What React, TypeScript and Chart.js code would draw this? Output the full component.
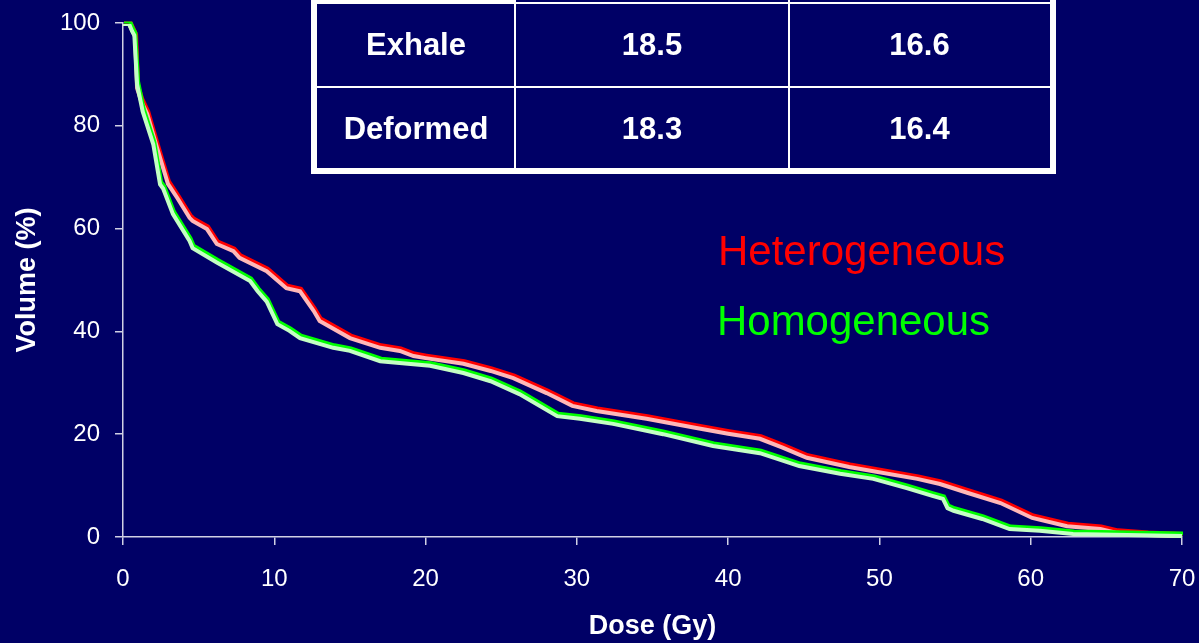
import React, { useEffect, useRef } from "react";
import { Chart, registerables } from "chart.js";

Chart.register(...registerables);

// ---- Data ----
const heteroDose = [0, 0.4, 0.66, 0.8, 0.93, 1.2, 1.6, 2.25, 2.97, 3.6, 4.4, 4.6, 5.55, 6.2, 7.3, 7.7, 9.5, 10.8, 11.7, 12.6, 13, 15, 17, 18.3, 19.2, 20, 22.5, 24.3, 25.8, 28, 29.7, 31.3, 34.6, 37.9, 40, 42.1, 43.6, 45.2, 48, 49.6, 52.5, 54, 55.8, 58, 60.1, 62.4, 64.6, 65.7, 67.7, 70];
const heteroVol = [100, 100, 98.4, 97.5, 87.5, 85, 82.5, 75.9, 68.9, 66.1, 62.3, 61.7, 60.1, 57.2, 55.8, 54.5, 51.9, 48.6, 48, 44.2, 42.2, 38.9, 37, 36.4, 35.4, 35, 33.9, 32.5, 31.1, 28.2, 25.7, 24.7, 23.2, 21.4, 20.3, 19.3, 17.6, 15.6, 13.8, 13.0, 11.5, 10.5, 8.8, 6.8, 3.9, 2.3, 1.75, 1.0, 0.6, 0.3];

const homoDose = [0, 0.4, 0.6, 0.75, 0.93, 1.3, 2.0, 2.45, 2.65, 3.3, 4.4, 4.6, 6.2, 8.4, 8.9, 9.5, 10.2, 11.0, 11.7, 13.9, 15, 17, 20.3, 22.5, 24.3, 26.2, 28.7, 30.2, 32.4, 35.7, 39.0, 42.1, 44.7, 47.4, 49.6, 51.8, 53.5, 54.2, 54.5, 54.9, 56.8, 58.6, 60.6, 62.8, 70];
const homoVol = [100, 100, 98.6, 97.8, 88.3, 83, 76.6, 68.8, 68, 63, 57.8, 56.4, 53.6, 50, 48, 46, 41.6, 40.3, 38.9, 37, 36.4, 34.4, 33.5, 32.1, 30.5, 28.0, 23.7, 23.2, 22.2, 20.2, 17.9, 16.5, 14, 12.5, 11.5, 9.7, 8.2, 7.6, 5.8, 5.3, 3.7, 1.75, 1.4, 0.8, 0.4];

const seriesLabels = ["Heterogeneous", "Homogeneous"];
const tableRows = ["Exhale", "Deformed"];
const tableCol1 = ["18.5", "18.3"];
const tableCol2 = ["16.6", "16.4"];

const xTitle = "Dose (Gy)";
const yTitle = "Volume (%)";

const NAVY = "#000066";
const AXIS = "#d0d0e4";
const FONT = "'Liberation Sans', Arial, Helvetica, sans-serif";

function pts(xs: number[], ys: number[]) {
  return xs.map((x, i) => ({ x, y: ys[i] }));
}

const bgPlugin = {
  id: "bg",
  beforeDraw(chart: any) {
    const ctx = chart.ctx;
    ctx.save();
    ctx.fillStyle = NAVY;
    ctx.fillRect(0, 0, chart.width, chart.height);
    ctx.restore();
  },
};

const shiftPlugin = {
  id: "shift",
  beforeDatasetDraw(chart: any, args: any) {
    const ds = chart.data.datasets[args.index];
    chart.ctx.save();
    if (ds.shift) chart.ctx.translate(ds.shift[0], ds.shift[1]);
  },
  afterDatasetDraw(chart: any) {
    chart.ctx.restore();
  },
};

const overlayPlugin = {
  id: "overlay",
  afterDraw(chart: any) {
    const ctx = chart.ctx;
    ctx.save();
    // Table
    const L = 311, R = 1056, B = 174;
    ctx.fillStyle = "#ffffff";
    ctx.fillRect(L, -10, R - L, B + 10);
    const cols = [317, 515, 789, 1050];
    const rowsY = [-10, 3, 87, 168];
    ctx.fillStyle = NAVY;
    for (let r = 0; r < 3; r++) {
      for (let c = 0; c < 3; c++) {
        if (r === 0 && c === 0) continue;
        const x0 = cols[c] + (c === 0 ? 0 : 1);
        const x1 = cols[c + 1] - (c === 2 ? 0 : 1);
        const y0 = rowsY[r] + (r === 0 ? 0 : 1);
        const y1 = rowsY[r + 1] - (r === 2 ? 0 : 1);
        ctx.fillRect(x0, y0, x1 - x0, y1 - y0);
      }
    }
    ctx.fillStyle = "#ffffff";
    ctx.font = `bold 31px ${FONT}`;
    ctx.textAlign = "center";
    ctx.textBaseline = "middle";
    const rowCenters = [46, 130];
    for (let i = 0; i < tableRows.length; i++) {
      ctx.fillText(tableRows[i], (cols[0] + cols[1]) / 2, rowCenters[i]);
      ctx.fillText(tableCol1[i], (cols[1] + cols[2]) / 2, rowCenters[i]);
      ctx.fillText(tableCol2[i], (cols[2] + cols[3]) / 2, rowCenters[i]);
    }
    // Series labels
    ctx.textAlign = "left";
    ctx.textBaseline = "alphabetic";
    ctx.font = `42px ${FONT}`;
    ctx.fillStyle = "#ff0000";
    ctx.fillText(seriesLabels[0], 718, 265, 290);
    ctx.fillStyle = "#00ff00";
    ctx.fillText(seriesLabels[1], 717, 335, 273);
    ctx.restore();
  },
};

export default function App() {
  const ref = useRef<HTMLCanvasElement | null>(null);
  useEffect(() => {
    if (!ref.current) return;
    const chart = new Chart(ref.current, {
      type: "line",
      data: {
        datasets: [
          { label: seriesLabels[1] + " pale", data: pts(homoDose, homoVol), borderColor: "#c4ffc4", borderWidth: 4, pointRadius: 0, tension: 0, shift: [0, 1] } as any,
          { label: seriesLabels[1], data: pts(homoDose, homoVol), borderColor: "#00ff00", borderWidth: 4, pointRadius: 0, tension: 0, shift: [1, -1.5] } as any,
          { label: seriesLabels[0] + " pale", data: pts(heteroDose, heteroVol), borderColor: "#ffb8b8", borderWidth: 4, pointRadius: 0, tension: 0, shift: [0, 1] } as any,
          { label: seriesLabels[0], data: pts(heteroDose, heteroVol), borderColor: "#ff0000", borderWidth: 4, pointRadius: 0, tension: 0, shift: [1, -1.5] } as any,
        ],
      },
      options: {
        animation: false,
        responsive: false,
        devicePixelRatio: 1,
        layout: { padding: { left: 0, right: 17, top: 23, bottom: 0 } },
        plugins: { legend: { display: false }, tooltip: { enabled: false } },
        scales: {
          x: {
            type: "linear",
            min: 0,
            max: 70,
            ticks: { stepSize: 10, color: "#ffffff", font: { family: FONT, size: 24 }, padding: 20 },
            grid: { drawOnChartArea: false, drawTicks: true, tickLength: 8, color: AXIS, lineWidth: 1.5 },
            border: { display: true, color: AXIS, width: 1.5 },
            title: { display: true, text: xTitle, color: "#ffffff", font: { family: FONT, size: 27, weight: "bold" }, padding: { top: 0, bottom: 0 } },
            afterFit: (s: any) => { s.height = 106; s.paddingLeft = 0; s.paddingRight = 0; },
          },
          y: {
            min: 0,
            max: 100,
            ticks: { stepSize: 20, color: "#ffffff", font: { family: FONT, size: 24 }, padding: 15 },
            grid: { drawOnChartArea: false, drawTicks: true, tickLength: 8, color: AXIS, lineWidth: 1.5 },
            border: { display: true, color: AXIS, width: 1.5 },
            title: { display: true, text: yTitle, color: "#ffffff", font: { family: FONT, size: 27, weight: "bold" }, padding: { top: 11, bottom: 0 } },
            afterFit: (s: any) => { s.width = 123; s.paddingTop = 0; s.paddingBottom = 0; },
          },
        },
      } as any,
      plugins: [bgPlugin, shiftPlugin, overlayPlugin],
    });
    return () => chart.destroy();
  }, []);
  return (
    <div style={{ position: "fixed", left: 0, top: 0, width: 1199, height: 643, background: NAVY }}>
      <canvas ref={ref} width={1199} height={643} />
    </div>
  );
}
